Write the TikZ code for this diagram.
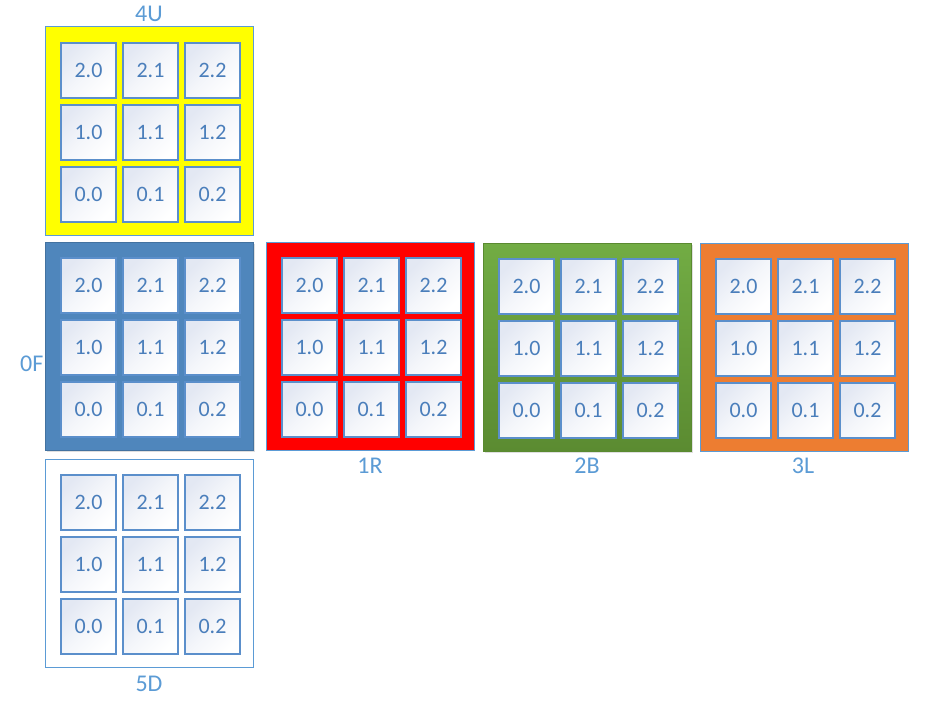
\documentclass[tikz,border=0pt]{standalone}
\usepackage{fontspec}
\setmainfont{Carlito}
\usetikzlibrary{shadows}
\definecolor{cellbd}{HTML}{5B8FCB}
\definecolor{celltxt}{HTML}{4A7EBB}
\definecolor{lbltxt}{HTML}{5B9BD5}
\definecolor{cellshade}{HTML}{E3E8F3}
\definecolor{facebd}{HTML}{5B9BD5}
\definecolor{cyellow}{HTML}{FFFF00}
\definecolor{cblue}{HTML}{4F86BC}
\definecolor{cred}{HTML}{FF0000}
\definecolor{cgreenT}{HTML}{72AC44}
\definecolor{cgreenB}{HTML}{5B8B31}
\definecolor{cgreenbd}{HTML}{5A8A30}
\definecolor{corange}{HTML}{ED7D31}
\tikzset{
  face/.style={draw=facebd, line width=1pt, minimum size=208pt, inner sep=0pt},
  cell/.style={draw=cellbd, line width=1.8pt, minimum size=55.5pt, inner sep=0pt,
    top color=cellshade, bottom color=white, middle color=white!60!cellshade, shading angle=45,
    text=celltxt, font=\fontsize{22}{26}\selectfont},
  lbl/.style={text=lbltxt, font=\fontsize{24}{28}\selectfont, inner sep=0pt},
  softshadow/.style={drop shadow={opacity=0.25, shadow xshift=2pt, shadow yshift=-2pt}}
}
\newcommand\cubeface[4]{%
  \node[face,#4] (#1) at (#2+104,#3+104) {};
  \foreach \row in {0,1,2}{%
    \foreach \col in {0,1,2}{%
      \pgfmathsetmacro\cx{#2+15.5+28+62*\col}%
      \pgfmathsetmacro\cy{#3+15.5+28+62*(2-\row)}%
      \node[cell] (#1-\row\col) at (\cx,\cy) {\row.\col};
    }%
  }%
}
\begin{document}
\begin{tikzpicture}[x=1pt,y=-1pt]
\useasboundingbox[fill=white] (0,0) rectangle (937,701);
\node[lbl, anchor=west] (l0F) at (20,364) {0F};
\cubeface{fU}{45}{27}{fill=cyellow}
\cubeface{fF}{45}{242}{fill=cblue, draw=cblue!85!black, softshadow}
\cubeface{fR}{266}{242}{fill=cred}
\cubeface{fB}{483}{243}{top color=cgreenT, bottom color=cgreenB, draw=cgreenbd, softshadow}
\cubeface{fL}{700}{243}{fill=corange}
\cubeface{fD}{45}{459}{fill=white}
\node[lbl] (l4U) at (149,14) {4U};
\node[lbl] (l1R) at (370,466) {1R};
\node[lbl] (l2B) at (587,466) {2B};
\node[lbl] (l3L) at (803,466) {3L};
\node[lbl] (l5D) at (149,684) {5D};
\end{tikzpicture}
\end{document}
